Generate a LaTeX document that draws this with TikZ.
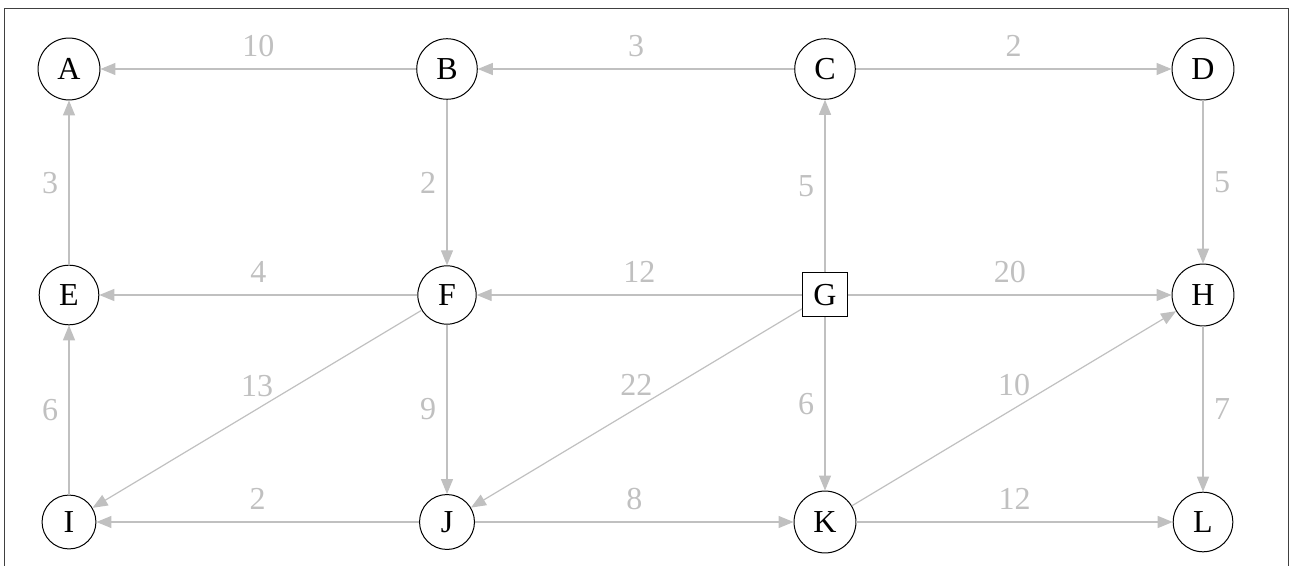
\documentclass[tikz,border=0pt]{standalone}
\usepackage{fontspec}
\setmainfont{Liberation Serif}
\usetikzlibrary{arrows.meta}
\definecolor{edgegray}{RGB}{192,192,192}
\tikzset{
  vtx/.style={circle, draw=black, line width=0.5pt, inner sep=5.15pt,
    text height=11pt, text depth=0.7pt, font=\fontsize{16}{19}\selectfont},
  src/.style={rectangle, draw=black, line width=0.5pt, inner xsep=5.5pt, inner ysep=5.15pt,
    text height=11pt, text depth=0.7pt, font=\fontsize{16}{19}\selectfont},
  link/.style={draw=edgegray, line width=0.6pt, -{Triangle[length=7.5pt,width=6pt]}},
  wt/.style={midway, text=edgegray, font=\fontsize{16}{19}\selectfont, inner sep=0pt},
  wtup/.style={wt, yshift=11.5pt},
  wtleft/.style={wt, xshift=-9.5pt},
  wtright/.style={wt, xshift=9.5pt},
}
\begin{document}
\begin{tikzpicture}[x=0.5pt, y=-0.5pt]
\useasboundingbox (0,0) rectangle (1290,566);
% open frame around the graph
\draw[line width=0.5pt, black!75] (4.5,566) -- (4.5,9) -- (1288,9) -- (1288,566);

% vertices
\node[vtx] (A) at (69,69)   {A};
\node[vtx] (B) at (447,69)  {B};
\node[vtx] (C) at (825,69)  {C};
\node[vtx] (D) at (1203,69) {D};
\node[vtx] (E) at (69,295)  {E};
\node[vtx] (F) at (447,295) {F};
\node[src] (G) at (825,295) {G};
\node[vtx] (H) at (1203,295) {H};
\node[vtx] (I) at (69,522)  {I};
\node[vtx] (J) at (447,522) {J};
\node[vtx] (K) at (825,522) {K};
\node[vtx] (L) at (1203,522) {L};

% weighted directed edges
\draw[link] (B) -- node[wtup] {10} (A);
\draw[link] (C) -- node[wtup] {3} (B);
\draw[link] (C) -- node[wtup] {2} (D);
\draw[link] (E) -- node[wtleft] {3} (A);
\draw[link] (B) -- node[wtleft] {2} (F);
\draw[link] (G) -- node[wtleft] {5} (C);
\draw[link] (D) -- node[wtright] {5} (H);
\draw[link] (F) -- node[wtup] {4} (E);
\draw[link] (G) -- node[wtup] {12} (F);
\draw[link] (G) -- node[wtup] {20} (H);
\draw[link] (I) -- node[wtleft] {6} (E);
\draw[link] (F) -- node[wtleft] {9} (J);
\draw[link] (G) -- node[wtleft] {6} (K);
\draw[link] (H) -- node[wtright] {7} (L);
\draw[link] (F) -- node[wtup] {13} (I);
\draw[link] (G) -- node[wtup] {22} (J);
\draw[link] (K) -- node[wtup] {10} (H);
\draw[link] (J) -- node[wtup] {2} (I);
\draw[link] (J) -- node[wtup] {8} (K);
\draw[link] (K) -- node[wtup] {12} (L);
\end{tikzpicture}
\end{document}
